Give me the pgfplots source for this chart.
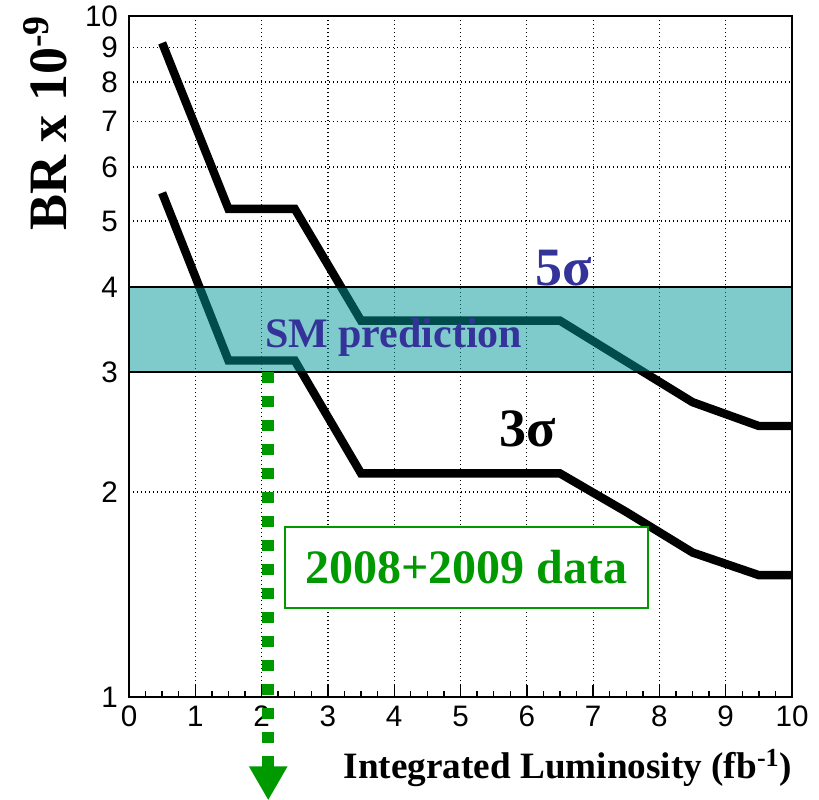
\documentclass[border=0pt]{standalone}
\usepackage{fontspec}
\setmainfont{Liberation Serif}
\newfontfamily\arialf{Liberation Sans}
\usepackage{pgfplots}
\pgfplotsset{compat=1.18}
\usetikzlibrary{arrows.meta,calc}
\definecolor{bandc}{RGB}{0,152,152}
\definecolor{smblue}{RGB}{51,51,153}
\definecolor{dgreen}{RGB}{0,153,0}
\begin{document}
\begin{tikzpicture}
\begin{axis}[
  scale only axis, width=331.5pt, height=340.5pt,
  ymode=log, log basis y=10,
  xmin=0, xmax=10, ymin=1, ymax=10,
  xtick={0,1,2,3,4,5,6,7,8,9,10}, minor x tick num=3,
  ytick={1,2,3,4,5,6,7,8,9,10}, yticklabels={1,2,3,4,5,6,7,8,9,10},
  yminorticks=false,
  xtick pos=bottom, ytick pos=left,
  grid=major,
  major grid style={black, line width=0.6pt, dash pattern=on 0.6pt off 1.4pt},
  axis line style={line width=0.8pt},
  tick align=inside,
  major tick length=6pt, minor tick length=3pt,
  tick style={black, line width=0.7pt},
  ytick style={draw=none},
  tick label style={font=\arialf\fontsize{14.8}{17}\selectfont},
  /pgf/number format/assume math mode=true,
  xticklabel style={yshift=-1pt},
  yticklabel style={xshift=-2pt},
  clip=false,
  xlabel={Integrated Luminosity (fb\textsuperscript{-1})},
  xlabel style={at={(axis description cs:0.662,-0.104)}, anchor=center, font=\bfseries\fontsize{18.6}{22}\selectfont},
  ylabel={BR x 10\textsuperscript{-9}},
  ylabel style={at={(axis description cs:-0.127,0.843)}, anchor=center, font=\bfseries\fontsize{27}{30}\selectfont},
]
\addplot[black, line width=4.2pt, line join=miter] coordinates {
  (0.5,9.13) (1.5,5.21) (2.5,5.21) (3.5,3.57) (6.5,3.57) (7.5,3.11) (8.5,2.71) (9.5,2.5) (10,2.5)};
\addplot[black, line width=4.2pt, line join=miter] coordinates {
  (0.5,5.5) (1.5,3.12) (2.5,3.12) (3.5,2.13) (6.5,2.13) (7.5,1.87) (8.5,1.63) (9.5,1.51) (10,1.51)};
\addplot[draw=black, line width=0.8pt, fill=bandc, fill opacity=0.5] coordinates {
  (0,3) (10,3) (10,4) (0,4)} -- cycle;
\addplot[dgreen, line width=6pt, dash pattern=on 5.5pt off 6.5pt, -{Triangle[length=17pt,width=18pt]}] coordinates {
  (2.1,3) (2.1,0.705)};
\node[text=smblue, font=\bfseries\fontsize{27}{30}\selectfont] at (axis cs:6.56,4.27) {5σ};
\node[text=smblue, font=\bfseries\fontsize{21}{24}\selectfont] at (axis cs:3.99,3.37) {SM prediction};
\node[text=black, font=\bfseries\fontsize{27}{30}\selectfont] at (axis cs:6.01,2.48) {3σ};
\node[draw=dgreen, line width=1pt, fill=white, minimum width=181.5pt, minimum height=40.5pt, text=dgreen, font=\bfseries\fontsize{24}{28}\selectfont] at (axis cs:5.09,1.552) {2008+2009 data};
\end{axis}
\pgfresetboundingbox
\path[use as bounding box] ($(current axis.south west)+(-64.5pt,-51pt)$) rectangle ($(current axis.north east)+(13.5pt,8pt)$);
\end{tikzpicture}
\end{document}
